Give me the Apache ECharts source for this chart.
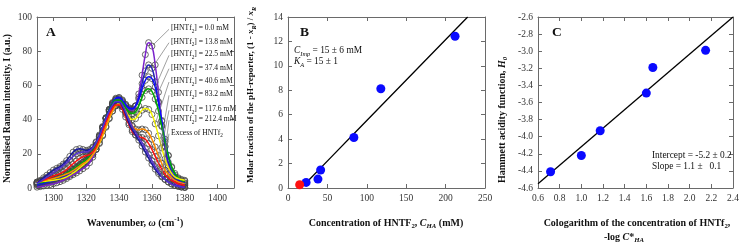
<!DOCTYPE html>
<html><head><meta charset="utf-8">
<script src="https://cdn.jsdelivr.net/npm/echarts@6/dist/echarts.min.js"></script>
<style>html,body{margin:0;padding:0;background:#fff}#c{width:743px;height:245px}</style>
</head><body><div id="c"></div>
<script>
// ---------- Panel A data ----------
const wavenumber = [1290,1292,1294,1296,1298,1300,1302,1304,1306,1308,1310,1312,1314,1316,1318,1320,1322,1324,1326,1328,1330,1332,1334,1336,1338,1340,1342,1344,1346,1348,1350,1352,1354,1356,1358,1360,1362,1364,1366,1368,1370,1372,1374,1376,1378,1380];
const concLabels = ['0.0','13.8','22.5','37.4','40.6','83.2','117.6','212.4','Excess'];
const spec_0_0 = [0.5,0.8,1.2,1.6,2.0,2.5,3.0,3.7,4.5,5.5,6.7,7.8,8.8,10.0,11.3,12.7,14.8,18.0,22.5,28.0,33.5,39.0,44.5,49.0,51.5,52.0,50.5,48.0,46.0,45.5,48.0,55.0,66.0,78.0,85.0,83.0,72.0,56.0,39.0,24.0,13.0,6.5,3.0,1.5,0.8,0.5];
const spec_13_8 = [1.5,2.0,2.5,3.0,3.5,4.0,4.6,5.3,6.2,7.2,8.4,9.7,11.0,12.5,14.0,15.5,17.5,20.5,24.5,29.5,35.0,40.5,45.5,49.5,52.0,52.5,51.0,48.5,46.5,46.0,48.0,53.0,61.0,68.5,72.0,70.0,62.0,50.0,36.5,24.5,15.0,9.0,5.5,3.5,2.5,2.0];
const spec_22_5 = [2.0,2.5,3.0,3.6,4.2,4.8,5.5,6.3,7.2,8.2,9.4,10.7,12.0,13.4,14.8,16.3,18.3,21.2,25.0,30.0,35.5,41.0,46.0,50.0,52.5,53.0,51.5,49.0,47.0,46.5,48.0,52.0,58.0,63.0,65.0,64.0,59.0,50.5,39.5,28.5,19.0,12.0,7.5,5.0,3.5,3.0];
const spec_37_4 = [2.5,3.0,3.5,4.0,4.6,5.2,5.9,6.7,7.6,8.6,9.8,11.0,12.3,13.7,15.1,16.6,18.6,21.5,25.3,30.2,35.5,41.0,46.0,49.5,51.5,51.5,50.0,47.0,44.5,43.5,44.5,48.0,53.0,57.0,58.0,56.5,52.0,45.0,36.0,27.0,19.0,12.5,8.5,6.0,4.5,4.0];
const spec_40_6 = [3.5,3.7,3.9,4.1,4.3,4.5,4.8,5.2,5.7,6.5,7.5,8.8,10.2,11.8,13.4,15.0,16.8,19.5,22.5,26.0,30.5,35.5,40.5,45.0,48.0,49.5,48.0,45.0,42.0,40.0,40.5,43.0,45.5,46.5,46.0,43.0,37.5,30.5,23.5,17.0,12.0,8.5,6.5,5.5,5.0,4.5];
const spec_83_2 = [3.5,3.9,4.3,4.7,5.1,5.5,6.1,6.7,7.4,8.2,9.0,10.2,11.5,12.8,14.2,15.5,17.3,19.5,22.8,26.5,31.0,36.0,41.0,45.0,48.0,49.0,47.5,44.0,40.0,36.5,34.5,34.0,34.5,34.0,32.0,28.5,24.0,19.0,14.5,10.5,8.0,6.0,4.5,3.5,3.0,2.5];
const spec_117_6 = [3.0,3.8,4.6,5.4,6.2,7.0,7.7,8.4,9.4,10.8,12.5,14.2,15.8,17.2,18.3,19.0,19.5,21.0,24.0,28.5,33.5,38.5,43.0,46.5,48.5,48.5,46.0,41.5,37.0,33.0,31.0,30.0,29.5,28.5,26.0,22.5,18.5,14.5,11.0,8.0,6.0,4.5,3.5,2.5,2.0,1.5];
const spec_212_4 = [3.0,4.5,6.0,7.5,9.0,10.5,11.5,12.5,14.0,16.0,18.5,21.0,22.5,23.0,22.5,22.0,22.5,24.0,27.0,31.0,36.0,41.0,45.5,48.5,50.0,50.0,47.5,43.0,38.0,34.0,31.0,28.0,24.5,21.0,17.5,14.0,11.0,8.5,6.5,5.0,3.5,2.5,1.5,1.0,0.5,0.3];
const spec_excess = [2.5,3.7,5.0,6.3,7.6,9.0,10.3,11.6,13.0,14.6,16.5,18.5,20.0,20.8,21.0,21.0,21.8,23.5,26.5,30.5,35.5,40.5,45.0,48.5,50.5,50.5,48.5,44.5,40.0,36.0,32.5,29.5,26.5,23.0,19.5,16.0,12.5,9.5,7.0,5.0,3.5,2.3,1.5,1.0,0.6,0.4];
const spectra = [spec_0_0, spec_13_8, spec_22_5, spec_37_4, spec_40_6, spec_83_2, spec_117_6, spec_212_4, spec_excess];
const leaderTargets = [1360,1360,1362,1362,1362,1364,1364,1366,1366];
const xTicksA = [1300,1320,1340,1360,1380,1400];

// ---------- Panel B data ----------
const concB = [23.0, 38.0, 41.4, 83.6, 117.8, 212.0];
const ratioB = [0.46, 0.73, 1.47, 4.13, 8.13, 12.42];
const concImp = [14.8];
const ratioImp = [0.27];
const fitBx = [25, 83, 228];
const fitBy = [0.55, 4.4, 14.0];

// ---------- Panel C data ----------
const cologC = [0.716, 1.0, 1.174, 1.6, 1.66, 2.147];
const hammettC = [-4.41, -4.22, -3.93, -3.49, -3.19, -2.99];
const fitCx = [0.6, 2.4];
const fitCy = [-4.55, -2.6];

// ---------- styles ----------
const FF = '"Liberation Serif", "Times New Roman", serif';
const colors = ['#7a22cc','#2424b4','#0a0aff','#00aa00','#f2f200','#ff8c00','#ff1010','#18189c','#5430d0'];
const axisCol = '#6a6a6a';
const plain = v => String(v);

function axesFor(g, x, y){
  const xs = [], ys = [];
  const lab = {fontFamily: FF, fontSize: 9.5, color: '#333', margin: 5};
  const baseX = {type:'value', gridIndex:g, min:x.min, max:x.max, interval:x.interval,
    axisLine:{show:true, onZero:false, lineStyle:{color:axisCol, width:1}},
    axisTick:{show:true, inside:true, length:4, lineStyle:{color:axisCol}},
    splitLine:{show:false}};
  if (x.custom){ baseX.axisTick.customValues = x.custom; }
  xs.push(Object.assign({}, baseX, {position:'bottom',
    axisLabel:Object.assign({}, lab, x.custom ? {customValues:x.custom} : {}, {formatter: x.fmt || plain})}));
  xs.push(Object.assign({}, baseX, {position:'top', axisLabel:{show:false}}));
  const baseY = {type:'value', gridIndex:g, min:y.min, max:y.max, interval:y.interval,
    axisLine:{show:true, onZero:false, lineStyle:{color:axisCol, width:1}},
    axisTick:{show:true, inside:true, length:4, lineStyle:{color:axisCol}},
    splitLine:{show:false}};
  ys.push(Object.assign({}, baseY, {position:'left', axisLabel:Object.assign({}, lab, {formatter: y.fmt || plain})}));
  ys.push(Object.assign({}, baseY, {position:'right', axisLabel:{show:false}}));
  return {xs, ys};
}
const aA = axesFor(0, {min:1290, max:1410, interval:10, custom:xTicksA}, {min:0, max:100, interval:20});
const aB = axesFor(1, {min:0, max:250, interval:50}, {min:0, max:14, interval:2});
const fmt1 = v => v.toFixed(1);
const aC = axesFor(2, {min:0.6, max:2.4, interval:0.2, fmt:fmt1}, {min:-4.6, max:-2.6, interval:0.2, fmt:fmt1});

const xAxis = [].concat(aA.xs, aB.xs, aC.xs);
const yAxis = [].concat(aA.ys, aB.ys, aC.ys);

const series = [];
spectra.forEach((s, i) => {
  series.push({type:'scatter', xAxisIndex:0, yAxisIndex:0, z:2, silent:true,
    symbol:'circle', symbolSize:6,
    itemStyle:{color:'rgba(255,255,255,0)', borderColor:'#444', borderWidth:0.8, opacity:1},
    data: wavenumber.map((w, k) => [w, s[k]])});
});
spectra.forEach((s, i) => {
  series.push({type:'line', xAxisIndex:0, yAxisIndex:0, z:3, smooth:0.5,
    showSymbol:false, lineStyle:{color:colors[i], width:1.5},
    data: wavenumber.map((w, k) => [w, s[k]])});
});
series.push({type:'line', xAxisIndex:2, yAxisIndex:2, showSymbol:false, z:3,
  lineStyle:{color:'#000', width:1.3}, smooth:0.3, data: fitBx.map((v,k)=>[v, fitBy[k]])});
series.push({type:'scatter', xAxisIndex:2, yAxisIndex:2, z:4, symbolSize:9,
  itemStyle:{color:'#0a0aff', opacity:1}, data: concB.map((v,k)=>[v, ratioB[k]])});
series.push({type:'scatter', xAxisIndex:2, yAxisIndex:2, z:4, symbolSize:9,
  itemStyle:{color:'#ff1010', opacity:1}, data: concImp.map((v,k)=>[v, ratioImp[k]])});
series.push({type:'line', xAxisIndex:4, yAxisIndex:4, showSymbol:false, z:3,
  lineStyle:{color:'#000', width:1.3}, data: fitCx.map((v,k)=>[v, fitCy[k]])});
series.push({type:'scatter', xAxisIndex:4, yAxisIndex:4, z:4, symbolSize:9,
  itemStyle:{color:'#0a0aff', opacity:1}, data: cologC.map((v,k)=>[v, hammettC[k]])});

const chart = echarts.init(document.getElementById('c'), null, {renderer:'canvas'});
chart.setOption({
  animation:false,
  grid:[
    {left:37, top:17, width:197, height:171},
    {left:288, top:17, width:197, height:171},
    {left:538, top:17, width:195, height:171}
  ],
  xAxis, yAxis, series
});

// ---------- text / annotations ----------
const T = 'Liberation Serif';
const title = (size) => ({
  b:{fontFamily:T, fontSize:size, fontWeight:'bold', lineHeight:size+4, verticalAlign:'middle', fill:'#111'},
  bi:{fontFamily:T, fontSize:size, fontWeight:'bold', fontStyle:'italic', lineHeight:size+4, verticalAlign:'middle', fill:'#111'},
  sub:{fontFamily:T, fontSize:size*0.68, fontWeight:'bold', lineHeight:size*0.68, verticalAlign:'bottom', fill:'#111'},
  subi:{fontFamily:T, fontSize:size*0.68, fontWeight:'bold', fontStyle:'italic', lineHeight:size*0.68, verticalAlign:'bottom', fill:'#111'},
  sup:{fontFamily:T, fontSize:size*0.68, fontWeight:'bold', lineHeight:size*0.68, verticalAlign:'top', fill:'#111'},
  n:{fontFamily:T, fontSize:size, lineHeight:size+4, verticalAlign:'middle', fill:'#111'},
  i:{fontFamily:T, fontSize:size, fontStyle:'italic', lineHeight:size+4, verticalAlign:'middle', fill:'#111'},
  nsub:{fontFamily:T, fontSize:size*0.68, lineHeight:size*0.68, verticalAlign:'bottom', fill:'#111'},
  isub:{fontFamily:T, fontSize:size*0.68, fontStyle:'italic', lineHeight:size*0.68, verticalAlign:'bottom', fill:'#111'}
});
const TS = 10;
function txt(x, y, text, rich, align, rot, vAlign){
  return {type:'text', x, y, rotation: rot || 0, silent:true, z:100,
    style:{text, rich, align: align || 'left', verticalAlign: vAlign || 'middle', fontFamily:T}};
}
const graphic = [];
graphic.push(txt(8, 183, '{b|Normalised Raman intensity, I (a.u.)}', title(9.6), 'left', Math.PI/2));
graphic.push(txt(135, 223, '{b|Wavenumber, }{bi|ω}{b| (cm}{sup|-1}{b|)}', title(TS), 'center'));
graphic.push(txt(251, 183, '{b|Molar fraction of the pH-reporter, (1 - }{bi|x}{subi|R}{b|) / }{bi|x}{subi|R}', title(9.0), 'left', Math.PI/2));
graphic.push(txt(386, 223, '{b|Concentration of HNTF}{sub|2}{b|, }{bi|C}{subi|HA}{b| (mM)}', title(TS), 'center'));
graphic.push(txt(502, 183, '{b|Hammett acidity function, }{bi|H}{subi|0}', title(TS), 'left', Math.PI/2));
graphic.push(txt(637, 223, '{b|Cologarithm of the concentration of HNTf}{sub|2}{b|,}', title(TS), 'center'));
graphic.push(txt(624, 237, '{b|-log }{bi|C}{b|*}{subi|HA}', title(TS), 'center'));
const L = {b:{fontFamily:T, fontSize:13.5, fontWeight:'bold', fill:'#111'}};
graphic.push(txt(46, 33, '{b|A}', L));
graphic.push(txt(300, 33, '{b|B}', L));
graphic.push(txt(552, 33, '{b|C}', L));
const aS = title(9.4);
graphic.push(txt(294, 51, '{i|C}{isub|Imp}{n| = 15 ± 6 mM}', aS));
graphic.push(txt(294, 62, '{i|K}{isub|A}{n| = 15 ± 1}', aS));
graphic.push(txt(652, 156, '{n|Intercept = -5.2 ± 0.2}', aS));
graphic.push(txt(652, 167, '{n|Slope = 1.1 ±   0.1}', aS));
const labY = [28.3, 41.7, 54.3, 67.7, 81, 94.3, 109.3, 119.3, 132.7];
const lS = title(7.6);
concLabels.forEach((c, i) => {
  const t = c === 'Excess' ? '{n|Excess of HNTf}{nsub|2}' : '{n|[HNTf}{nsub|2}{n|] = ' + c + ' mM}';
  graphic.push(txt(171, labY[i], t, lS));
  const k = wavenumber.indexOf(leaderTargets[i]);
  const p = chart.convertToPixel({xAxisIndex:0, yAxisIndex:0}, [leaderTargets[i], spectra[i][k]]);
  graphic.push({type:'line', silent:true, z:90, shape:{x1:169, y1:labY[i] + 1, x2:p[0], y2:p[1]},
    style:{stroke:'#777', lineWidth:0.7}});
});
chart.setOption({graphic});
</script></body></html>
